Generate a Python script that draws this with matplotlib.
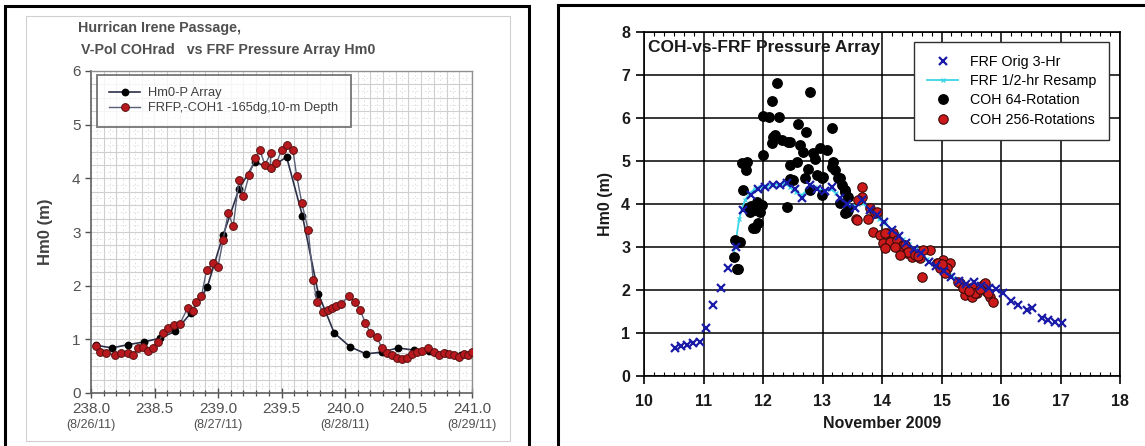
import numpy as np
import matplotlib
matplotlib.use("Agg")
from matplotlib import pyplot as plt
from matplotlib.patches import Rectangle
from matplotlib.ticker import MultipleLocator, FixedLocator

plt.rcParams['font.family'] = ['Liberation Sans', 'DejaVu Sans']

# ---- Hurricane Irene: FRF pressure array (3-hourly) vs COH radar ----
irene_p_day = [238.04, 238.165, 238.29, 238.415, 238.54, 238.665, 238.79,
               238.915, 239.04, 239.165, 239.29, 239.415, 239.54, 239.665,
               239.79, 239.915, 240.04, 240.165, 240.29, 240.415, 240.54,
               240.665, 240.79, 240.915]
irene_p_hm0 = [0.89, 0.84, 0.90, 0.95, 1.02, 1.15, 1.50, 1.97, 2.94, 3.80,
               4.30, 4.20, 4.40, 3.30, 1.85, 1.12, 0.86, 0.73, 0.76, 0.84,
               0.80, 0.78, 0.74, 0.70]

irene_coh_day = [238.04, 238.07, 238.12, 238.19, 238.24, 238.29, 238.33,
                 238.37, 238.41, 238.45, 238.49, 238.53, 238.57, 238.61,
                 238.65, 238.70, 238.76, 238.80, 238.83, 238.87, 238.91,
                 238.96, 239.00, 239.04, 239.08, 239.12, 239.165, 239.20,
                 239.245, 239.29, 239.33, 239.37, 239.415, 239.415, 239.46,
                 239.50, 239.54, 239.59, 239.62, 239.66, 239.71, 239.75,
                 239.78, 239.83, 239.87, 239.90, 239.93, 239.97, 240.03,
                 240.08, 240.12, 240.16, 240.20, 240.25, 240.29, 240.33,
                 240.37, 240.41, 240.45, 240.49, 240.53, 240.57, 240.61,
                 240.65, 240.70, 240.74, 240.78, 240.82, 240.86, 240.90,
                 240.94, 240.97, 241.00]
irene_coh_hm0 = [0.88, 0.76, 0.74, 0.71, 0.74, 0.74, 0.71, 0.84, 0.86, 0.78,
                 0.84, 0.95, 1.12, 1.21, 1.27, 1.29, 1.58, 1.53, 1.69, 1.81,
                 2.29, 2.42, 2.35, 2.85, 3.35, 3.11, 3.97, 3.67, 4.06, 4.37,
                 4.52, 4.25, 4.47, 4.19, 4.29, 4.52, 4.63, 4.52, 4.04, 3.54,
                 3.04, 2.10, 1.69, 1.51, 1.55, 1.58, 1.62, 1.66, 1.81, 1.70,
                 1.55, 1.30, 1.12, 1.05, 0.84, 0.75, 0.70, 0.66, 0.63, 0.66,
                 0.72, 0.76, 0.78, 0.84, 0.76, 0.70, 0.74, 0.72, 0.70, 0.68,
                 0.72, 0.70, 0.76]

irene_ticks = [238.0, 238.5, 239.0, 239.5, 240.0, 240.5, 241.0]
irene_dates = [(238.0, '(8/26/11)'), (239.0, '(8/27/11)'),
               (240.0, '(8/28/11)'), (241.0, '(8/29/11)')]

# ---- November 2009 storm: FRF pressure array vs COH ----
frf_day = [10.52, 10.62, 10.72, 10.82, 10.94, 11.04, 11.16, 11.29, 11.41,
           11.54, 11.66, 11.79, 11.91, 12.04, 12.16, 12.29, 12.41, 12.54,
           12.66, 12.79, 12.91, 13.04, 13.16, 13.29, 13.41, 13.54, 13.66,
           13.79, 13.91, 14.04, 14.16, 14.29, 14.41, 14.54, 14.66, 14.79,
           14.91, 15.04, 15.16, 15.29, 15.41, 15.54, 15.66, 15.79, 15.91,
           16.04, 16.16, 16.29, 16.43, 16.52, 16.69, 16.79, 16.90, 17.02]
frf_hm0 = [0.65, 0.70, 0.72, 0.76, 0.78, 1.12, 1.65, 2.05, 2.52, 3.00, 3.85,
           4.20, 4.35, 4.40, 4.45, 4.45, 4.50, 4.35, 4.15, 4.45, 4.35, 4.30,
           4.40, 4.15, 4.00, 3.90, 4.10, 3.85, 3.75, 3.58, 3.40, 3.25, 3.10,
           2.95, 2.85, 2.65, 2.55, 2.45, 2.30, 2.20, 2.15, 2.19, 2.10, 2.05,
           2.02, 1.93, 1.74, 1.66, 1.53, 1.58, 1.35, 1.30, 1.26, 1.23]

resamp_day = [11.50, 11.55, 11.60, 11.65, 11.70, 11.78, 11.86, 11.95, 12.05,
              12.15, 12.25, 12.35, 12.45, 12.55, 12.65, 12.72, 12.80, 12.88,
              12.96, 13.05, 13.14, 13.22, 13.30, 13.40, 13.50, 13.60, 13.68,
              13.76, 13.85, 13.95, 14.05, 14.15, 14.25, 14.35, 14.45, 14.55,
              14.65, 14.75, 14.85, 14.95, 15.05, 15.15, 15.25, 15.32]
resamp_hm0 = [2.75, 3.20, 3.65, 3.90, 4.10, 4.25, 4.35, 4.40, 4.42, 4.45,
              4.45, 4.48, 4.40, 4.28, 4.20, 4.30, 4.42, 4.40, 4.33, 4.30,
              4.36, 4.25, 4.12, 4.02, 3.95, 4.00, 4.02, 3.90, 3.78, 3.65,
              3.55, 3.42, 3.30, 3.18, 3.06, 2.95, 2.85, 2.72, 2.60, 2.52,
              2.44, 2.34, 2.25, 2.20]

coh64_day = [12.24, 12.79, 12.15, 12.00, 12.10, 12.27, 12.59, 12.72, 13.16,
             12.17, 12.15, 12.32, 12.45, 12.62, 12.67, 12.84, 12.96, 13.08,
             12.00, 11.73, 11.71, 11.65, 12.45, 12.57, 12.76, 13.18, 13.21,
             12.91, 12.99, 12.71, 12.45, 13.26, 13.33, 13.38, 12.79, 12.99,
             11.66, 13.43, 13.29, 13.41, 12.40, 11.83, 11.78, 11.90, 11.95,
             11.92, 11.83, 11.87, 11.53, 11.61, 11.51, 11.56, 11.58, 11.80,
             11.86, 11.98, 13.00, 13.16, 13.29, 13.38, 13.43, 13.38, 12.42,
             11.74, 11.88, 12.50, 12.20, 12.88]
coh64_hm0 = [6.81, 6.61, 6.40, 6.05, 6.02, 6.02, 5.86, 5.67, 5.77, 5.56,
             5.42, 5.49, 5.44, 5.37, 5.21, 5.19, 5.30, 5.26, 5.14, 4.98,
             4.79, 4.95, 4.91, 4.98, 4.81, 4.98, 4.79, 4.67, 4.60, 4.60,
             4.58, 4.60, 4.44, 4.28, 4.33, 4.21, 4.33, 4.16, 4.02, 3.81,
             3.93, 3.93, 3.81, 4.05, 3.81, 3.56, 3.44, 3.44, 3.16, 3.12,
             2.77, 2.49, 2.49, 3.95, 3.85, 3.98, 4.63, 4.86, 4.60, 4.33,
             3.86, 3.79, 5.45, 3.90, 3.92, 4.55, 5.60, 5.05]

coh256_day = [13.66, 13.66, 13.60, 13.80, 13.88, 13.76, 13.56, 13.85, 13.97,
              14.08, 14.18, 14.02, 14.13, 14.25, 14.35, 14.34, 14.42, 14.50,
              13.92, 13.58, 14.05, 14.05, 14.39, 14.44, 14.55, 14.64, 14.81,
              14.69, 14.30, 14.67, 14.92, 15.03, 15.14, 15.09, 14.97, 15.06,
              15.31, 15.43, 15.39, 15.53, 15.60, 15.70, 15.76, 15.82, 15.87,
              15.51, 15.28, 15.36, 15.56, 15.73, 15.78, 14.94, 15.00, 15.47,
              15.65, 14.22, 14.60]
coh256_hm0 = [4.40, 4.16, 4.09, 3.91, 3.79, 3.65, 3.65, 3.35, 3.28, 3.33,
              3.33, 3.09, 3.12, 3.16, 3.05, 2.88, 2.86, 2.77, 3.81, 3.63,
              3.33, 2.98, 3.05, 2.88, 2.81, 2.74, 2.93, 2.93, 2.81, 2.30,
              2.63, 2.70, 2.63, 2.51, 2.51, 2.40, 2.16, 2.05, 1.88, 2.07,
              1.93, 2.12, 1.95, 1.84, 1.72, 1.84, 2.19, 2.05, 1.93, 2.16,
              1.93, 2.63, 2.60, 1.98, 2.02, 3.00, 2.80]

W, H = 1145, 446
fig = plt.figure(figsize=(W / 100, H / 100), dpi=100)


def fx(px):
    return px / W


def fy(py):
    return 1 - py / H


# panel frames
fig.patches.append(Rectangle((fx(5), fy(470)), fx(524), fy(6) - fy(470),
                             transform=fig.transFigure, fill=False,
                             edgecolor='black', linewidth=2.2))
fig.patches.append(Rectangle((fx(26), fy(441)), fx(484), fy(16) - fy(441),
                             transform=fig.transFigure, fill=False,
                             edgecolor='#d0d0d0', linewidth=0.8))
fig.patches.append(Rectangle((fx(558), fy(470)), fx(620), fy(5) - fy(470),
                             transform=fig.transFigure, fill=False,
                             edgecolor='black', linewidth=2.2))

# ---------------- left: Irene ----------------
gray = '#505050'
ax1 = fig.add_axes([fx(91), fy(393), fx(381), fy(71) - fy(393)])
ax1.plot(irene_p_day, irene_p_hm0, color='#2c3048', linewidth=1.2,
         marker='o', markersize=4.6, markerfacecolor='black',
         markeredgecolor='black', label='Hm0-P Array', zorder=3)
ax1.plot(irene_coh_day, irene_coh_hm0, color='#5a6078', linewidth=1.0,
         marker='o', markersize=5.6, markerfacecolor='#b8191f',
         markeredgecolor='#5a1010', markeredgewidth=0.7,
         label='FRFP,-COH1 -165dg,10-m Depth', zorder=4)
ax1.set_xlim(238.0, 241.0)
ax1.set_ylim(0, 6)
ax1.xaxis.set_major_locator(FixedLocator(irene_ticks))
ax1.set_xticklabels(['%.1f' % t for t in irene_ticks])
ax1.xaxis.set_minor_locator(MultipleLocator(0.1))
ax1.yaxis.set_major_locator(MultipleLocator(1))
ax1.set_axisbelow(True)
# Excel style lattice: solid lines plus dashed half steps
for x in np.arange(238.1, 241.0, 0.1):
    ax1.axvline(x, color='#cfcfcf', linewidth=0.8, zorder=0)
for x in np.arange(238.05, 241.0, 0.1):
    ax1.axvline(x, color='#dcdcdc', linewidth=0.6, linestyle=(0, (2, 3)),
                zorder=0)
for y in np.arange(0.25, 6.0, 0.25):
    ax1.axhline(y, color='#cfcfcf', linewidth=0.8, zorder=0)
for y in np.arange(0.125, 6.0, 0.25):
    ax1.axhline(y, color='#dcdcdc', linewidth=0.6, linestyle=(0, (2, 3)),
                zorder=0)
for side in ['left', 'bottom']:
    ax1.spines[side].set_color('#606060')
    ax1.spines[side].set_linewidth(1.2)
for side in ['right', 'top']:
    ax1.spines[side].set_color('#909090')
    ax1.spines[side].set_linewidth(1.0)
ax1.tick_params(axis='both', which='major', labelsize=11, colors=gray,
                direction='out', length=4, width=1.0)
ax1.tick_params(axis='x', which='major', direction='inout', length=7,
                pad=3)
ax1.tick_params(axis='x', which='minor', direction='inout', length=5,
                width=0.9, color=gray)
for t, d in irene_dates:
    ax1.text(t, -0.098, d, transform=ax1.get_xaxis_transform(),
             ha='center', va='center', fontsize=9, color=gray)
ax1.set_ylabel('Hm0 (m)', fontsize=12, fontweight='bold', color='#404040',
               labelpad=14)
leg1 = ax1.legend(loc='upper left', bbox_to_anchor=(0.016, 0.988),
                  fontsize=9.3, frameon=True, fancybox=False,
                  edgecolor='#606060', handlelength=2.4, handletextpad=0.6,
                  borderpad=0.95, labelspacing=0.25, borderaxespad=0)
leg1.get_frame().set_linewidth(1.4)
for txt in leg1.get_texts():
    txt.set_color('#404040')
fig.text(fx(78), fy(28), 'Hurrican Irene Passage,', fontsize=10.3,
         fontweight='bold', color=gray, va='center')
fig.text(fx(81), fy(50), 'V-Pol COHrad   vs FRF Pressure Array Hm0',
         fontsize=10.3, fontweight='bold', color=gray, va='center')

# ---------------- right: November 2009 ----------------
ax2 = fig.add_axes([fx(644), fy(376), fx(476), fy(32) - fy(376)])
ax2.plot(resamp_day, resamp_hm0, color='#3ad6e6', linewidth=1.3,
         marker='x', markersize=3.5, markeredgewidth=0.9,
         label='FRF 1/2-hr Resamp', zorder=3)
ax2.plot(coh64_day, coh64_hm0, linestyle='none', marker='o',
         markersize=6.8, color='black', label='COH 64-Rotation', zorder=4)
ax2.plot(coh256_day, coh256_hm0, linestyle='none', marker='o',
         markersize=6.8, markerfacecolor='#cc1a1a', markeredgecolor='#3a0a0a',
         markeredgewidth=0.8, label='COH 256-Rotations', zorder=5)
ax2.plot(frf_day, frf_hm0, linestyle='none', marker='x', markersize=5.5,
         markeredgewidth=1.6, color='#1a1aa8', label='FRF Orig 3-Hr',
         zorder=6)
ax2.set_xlim(10, 18)
ax2.set_ylim(0, 8)
ax2.xaxis.set_major_locator(MultipleLocator(1))
ax2.xaxis.set_minor_locator(MultipleLocator(1 / 6))
ax2.yaxis.set_major_locator(MultipleLocator(1))
ax2.grid(True, which='major', color='black', linewidth=1.1)
ax2.set_axisbelow(True)
for side in ax2.spines:
    ax2.spines[side].set_color('black')
    ax2.spines[side].set_linewidth(1.2)
ax2.tick_params(axis='both', which='major', direction='out', length=6,
                width=1.2, labelsize=11.5, labelcolor='#1a1a1a', pad=4)
ax2.tick_params(axis='x', which='major', pad=7)
ax2.tick_params(axis='x', which='minor', direction='in', length=3,
                width=0.8, top=True, bottom=True)
for lbl in ax2.get_xticklabels() + ax2.get_yticklabels():
    lbl.set_fontweight('bold')
ax2.set_xlabel('November 2009', fontsize=11.5, fontweight='bold',
               color='#1a1a1a', labelpad=5)
ax2.set_ylabel('Hm0 (m)', fontsize=11.5, fontweight='bold',
               color='#1a1a1a', labelpad=6)
ax2.text(0.008, 0.955, 'COH-vs-FRF Pressure Array', transform=ax2.transAxes,
         fontsize=12.5, fontweight='bold', color='#1a1a1a', va='center')
handles, labels = ax2.get_legend_handles_labels()
order = [3, 0, 1, 2]
leg2 = ax2.legend([handles[i] for i in order], [labels[i] for i in order],
                  loc='upper right', bbox_to_anchor=(0.977, 0.972),
                  fontsize=10.3, frameon=True, fancybox=False,
                  edgecolor='#303030', framealpha=1, handlelength=2.2,
                  labelspacing=0.38, borderpad=0.9, borderaxespad=0)
leg2.get_frame().set_linewidth(1.0)

fig.savefig('out.png', dpi=100)
